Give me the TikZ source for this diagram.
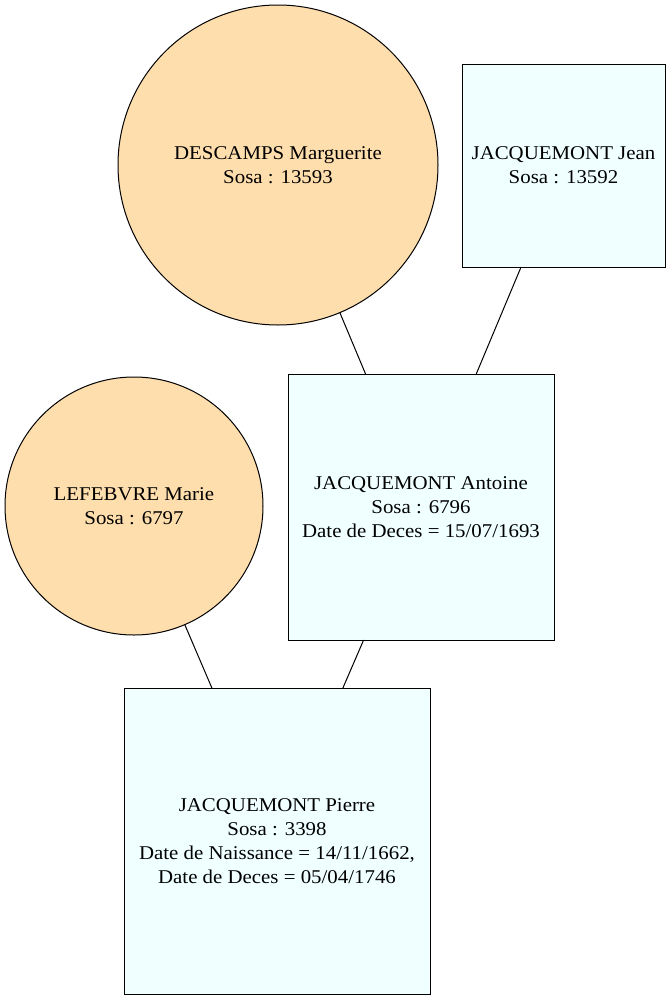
\documentclass[tikz,border=0pt]{standalone}
\usepackage{fontspec}
\setmainfont{Liberation Serif}[FakeStretch=1.07]
\definecolor{circfill}{HTML}{FFDEAD}
\definecolor{boxfill}{HTML}{F0FFFF}
\begin{document}
\begin{tikzpicture}[x=1pt,y=-1pt,
  every node/.style={font=\fontsize{19.5}{24}\selectfont, align=center, inner sep=0pt, outer sep=0pt, draw=black, line width=1pt},
  person/.style={circle, fill=circfill},
  box/.style={rectangle, fill=boxfill},
  link/.style={line width=1pt, draw=black}]
\useasboundingbox (0,0) rectangle (670,999);
\node[person, minimum size=320pt] (descamps) at (278,165) {DESCAMPS Marguerite\\Sosa : 13593};
\node[box, minimum width=203pt, minimum height=203pt] (jean) at (563.5,165.5) {JACQUEMONT Jean\\Sosa : 13592};
\node[person, minimum size=258pt] (lefebvre) at (134,506) {LEFEBVRE Marie\\Sosa : 6797};
\node[box, minimum width=266pt, minimum height=266pt] (antoine) at (421,507) {JACQUEMONT Antoine\\Sosa : 6796\\Date de Deces = 15/07/1693};
\node[box, minimum width=306pt, minimum height=306pt] (pierre) at (277,841) {JACQUEMONT Pierre\\Sosa : 3398\\Date de Naissance = 14/11/1662,\\Date de Deces = 05/04/1746};
\draw[link] (descamps) -- (antoine);
\draw[link] (jean) -- (antoine);
\draw[link] (lefebvre) -- (pierre);
\draw[link] (antoine) -- (pierre);
\end{tikzpicture}
\end{document}
